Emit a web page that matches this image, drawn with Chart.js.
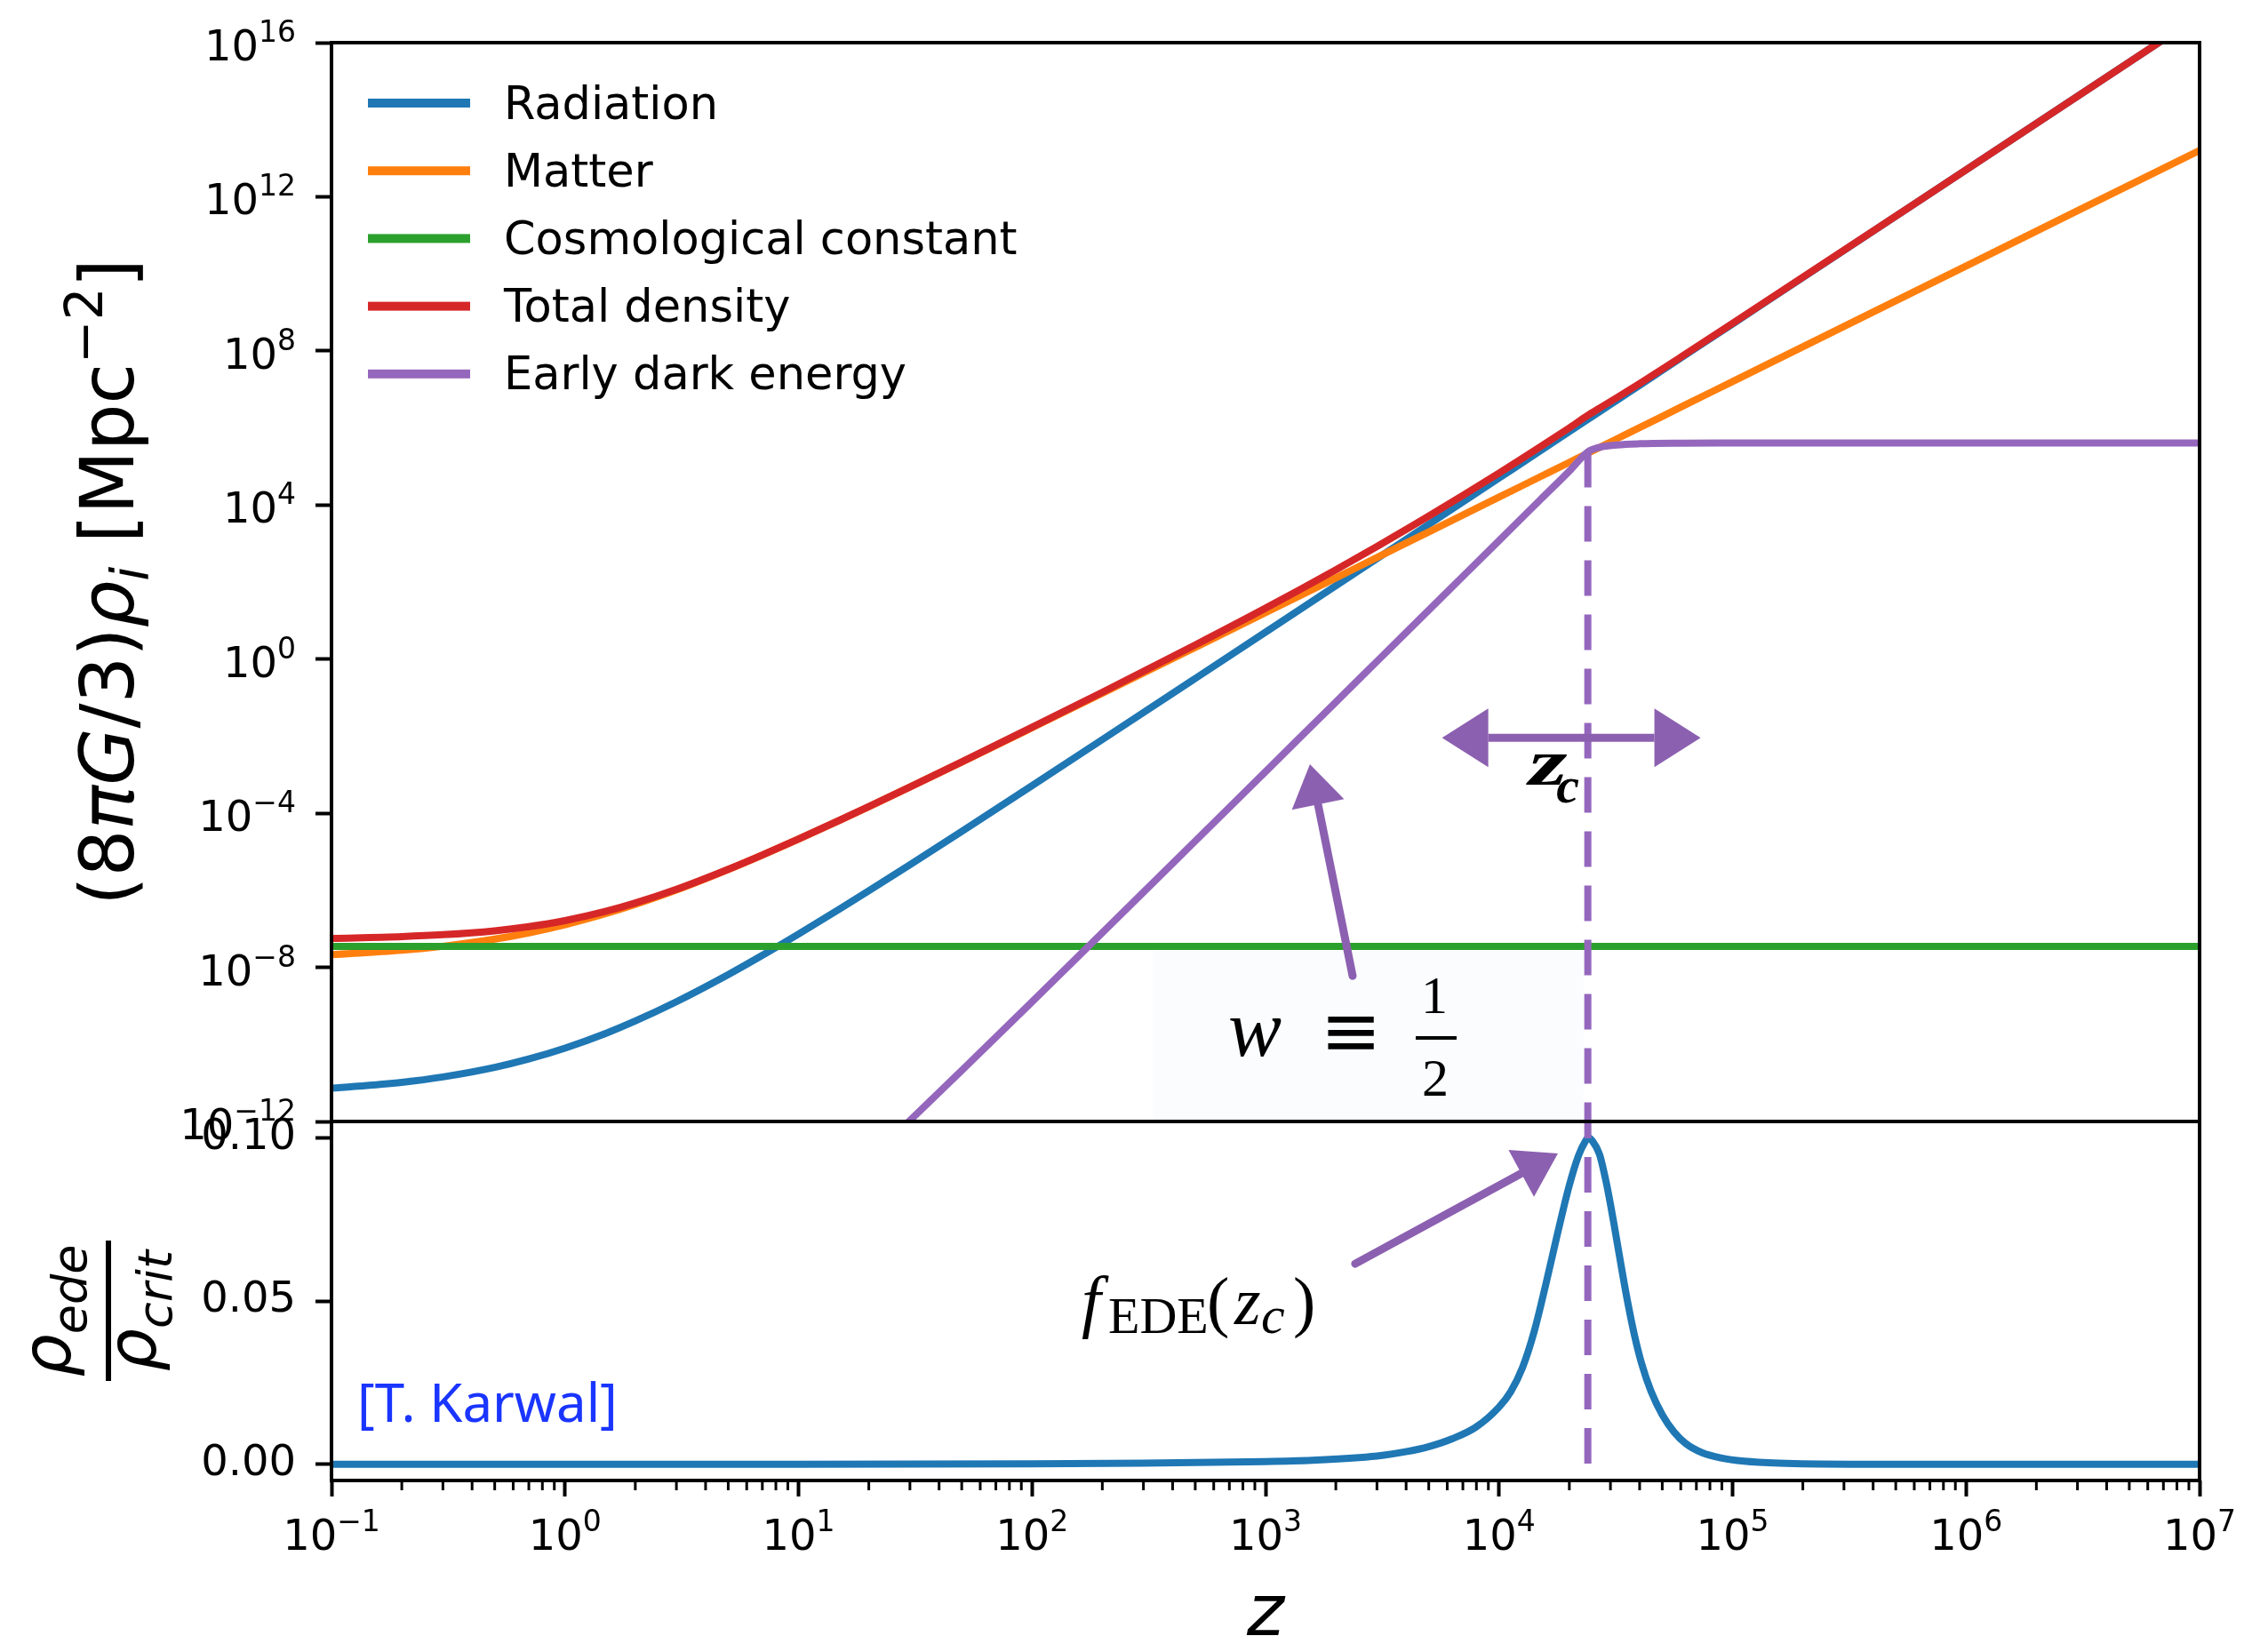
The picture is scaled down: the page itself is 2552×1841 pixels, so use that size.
<!DOCTYPE html>
<html>
<head>
<meta charset="utf-8">
<script src="https://cdn.jsdelivr.net/npm/chart.js@4.4.1/dist/chart.umd.min.js"></script>
<style>
html, body { margin: 0; padding: 0; background: #fff; }
#wrap { position: relative; width: 2552px; height: 1841px; overflow: hidden; }
canvas { position: absolute; left: 0; top: 0; }
</style>
</head>
<body>
<div id="wrap">
  <canvas id="topChart" width="2552" height="1841"></canvas>
  <canvas id="bottomChart" width="2552" height="1841"></canvas>
</div>
<script>
// values (log-log upper panel, linear lower panel)
const zTop = [0.1, 0.2, 0.3, 0.5, 0.7, 1, 1.5, 2, 3, 5, 7, 10, 15, 20, 30, 50, 100, 200, 500,
  1000, 2000, 3000, 5000, 1e4, 1.5e4, 2e4, 2.4e4, 2.7e4, 3.2e4, 4e4, 6e4, 1e5, 1e6, 1e7];
const radiation = [7.3e-12, 1.04e-11, 1.43e-11, 2.53e-11, 4.18e-11, 8.0e-11, 1.95e-10, 4.05e-10, 1.28e-9,
  6.48e-9, 2.05e-8, 7.32e-8, 3.28e-7, 9.72e-7, 4.62e-6, 3.38e-5, 5.2e-4, 8.16e-3, 0.315,
  5.02, 80.2, 405, 3127, 5.0e4, 2.53e5, 8.0e5, 1.66e6, 2.66e6, 5.24e6, 1.28e7, 6.48e7, 5.0e8, 5.0e12, 5.0e16];
const matter = [2.13e-8, 2.77e-8, 3.52e-8, 5.4e-8, 7.86e-8, 1.28e-7, 2.5e-7, 4.32e-7, 1.02e-6,
  3.46e-6, 8.19e-6, 2.13e-5, 6.55e-5, 1.48e-4, 4.77e-4, 2.12e-3, 0.0165, 0.130, 2.01,
  16.0, 128, 433, 2.0e3, 1.6e4, 5.4e4, 1.28e5, 2.21e5, 3.15e5, 5.24e5, 1.02e6, 3.46e6, 1.6e7, 1.6e10, 1.6e13];
const total = [5.63e-8, 6.28e-8, 7.03e-8, 8.9e-8, 1.137e-7, 1.631e-7, 2.852e-7, 4.674e-7, 1.056e-6,
  3.50e-6, 8.25e-6, 2.14e-5, 6.59e-5, 1.49e-4, 4.82e-4, 2.15e-3, 0.0170, 0.138, 2.33,
  21.0, 208, 839, 5146, 6.72e4, 3.21e5, 1.004e6, 2.12e6, 3.29e6, 6.13e6, 1.42e7, 6.87e7, 5.16e8, 5.02e12, 5.0e16];
const zLambda = [0.1, 1e7];
const lambdaVals = [3.5e-8, 3.5e-8];
const zEde = [20, 30, 50, 100, 200, 500, 1000, 2000, 3000, 5000, 1e4, 1.5e4, 2e4, 2.4e4, 2.7e4,
  3.2e4, 4e4, 6e4, 1e5, 1e6, 1e7];
const ede = [1.0e-13, 1.06e-12, 2.1e-11, 1.27e-9, 7.87e-8, 1.89e-5, 1.2e-3, 0.0768, 0.873, 18.7, 1194,
  1.36e4, 7.6e4, 2.4e5, 3.16e5, 3.63e5, 3.89e5, 4.03e5, 4.07e5, 4.07e5, 4.07e5];

// lower panel: rho_ede / rho_crit
const zFrac = [0.1, 10, 100, 300, 1000, 1585, 2512, 3162, 3981, 5012, 6310, 7943, 10000, 11220, 12589,
  14125, 15849, 17783, 19953, 21878, 23442, 24100, 25119, 26915, 28840, 30903, 33113, 35481, 38019, 40738,
  44668, 50119, 56234, 63096, 74131, 89125, 112202, 158489, 316228, 1e6, 1e7];
const fracEde = [0, 0, 0.0001, 0.0003, 0.0008, 0.0012, 0.0020, 0.0027, 0.0038, 0.0054, 0.0078, 0.0113,
  0.0175, 0.0222, 0.0295, 0.0405, 0.0550, 0.0705, 0.0852, 0.0945, 0.0990, 0.1000, 0.0990, 0.0950, 0.0860,
  0.0745, 0.0620, 0.0500, 0.0395, 0.0310, 0.0225, 0.0150, 0.0098, 0.0063, 0.0035, 0.0019, 0.0009, 0.0003,
  0, 0, 0];

// critical redshift marker
const zCrit = 2.4e4;
const zCritTop = [2.4e5, 1e-12];
const zCritBottom = [0.105, 0];

// ticks
const xTicks = [0.1, 1, 10, 100, 1e3, 1e4, 1e5, 1e6, 1e7];
const xTickExp = ['−1', '0', '1', '2', '3', '4', '5', '6', '7'];
const yTopTicks = [1e-12, 1e-8, 1e-4, 1, 1e4, 1e8, 1e12, 1e16];
const yTopExp = ['−12', '−8', '−4', '0', '4', '8', '12', '16'];
const yBotTicks = [0, 0.05, 0.1];
const yBotLabels = ['0.00', '0.05', '0.10'];
const minorMult = [2, 3, 4, 5, 6, 7, 8, 9];

// annotation anchors, in data coordinates [z, value]
const zcArrow = [[5.7e3, 9.1e-3], [7.3e4, 9.1e-3]];
const zcText = [1.34e4, 5.5e-4];
const wArrow = [[2360, 6.0e-9], [1549, 1.86e-3]];
const wText = [692, 5.1e-11];
const wBox = [[330, 2.7e-8], [23040, 1e-12]];
const fArrow = [[2420, 0.0614], [17870, 0.0952]];
const fText = [163, 0.0429];
const creditText = [0.129, 0.0130];

const SANS = "'DejaVu Sans'";
const SERIF = "'Liberation Serif'";
const purple = '#9467bd';
const notePurple = '#8c60b0';

function pts(xs, ys) {
    return xs.map((x, i) => ({ x: x, y: ys[i] }));
}

function curve(label, xs, ys, color, order) {
    return {
        label: label, data: pts(xs, ys), borderColor: color, backgroundColor: color,
        borderWidth: 8, pointRadius: 0, cubicInterpolationMode: 'monotone', order: order
    };
}

function toPx(chart, p) {
    return [chart.scales.x.getPixelForValue(p[0]), chart.scales.y.getPixelForValue(p[1])];
}

// draw a list of [text, font, dy] pieces one after another
function drawRuns(ctx, runs, x, y, align) {
    let width = 0;
    runs.forEach(r => { ctx.font = r[1]; width += ctx.measureText(r[0]).width; });
    let cx = align === 'center' ? x - width / 2 : x;
    runs.forEach(r => {
        ctx.font = r[1];
        ctx.fillText(r[0], cx, y + (r[2] || 0));
        cx += ctx.measureText(r[0]).width;
    });
    return width;
}

// "10^n" tick labels on the log axes, positioned from the scale's own ticks
function powLabels(ctx, scale, exps, axis) {
    ctx.save();
    ctx.fillStyle = '#000';
    ctx.textAlign = 'left';
    ctx.textBaseline = 'alphabetic';
    scale.ticks.forEach((t, i) => {
        const p = scale.getPixelForValue(t.value);
        ctx.font = '48px ' + SANS;
        const w1 = ctx.measureText('10').width;
        ctx.font = '33px ' + SANS;
        const w2 = ctx.measureText(exps[i]).width;
        let x, b;
        if (axis === 'y') {
            x = scale.right - 40 - (w1 + w2);
            b = p + 20;
        } else {
            x = p - (w1 + w2) / 2;
            b = scale.top + 78;
        }
        ctx.font = '48px ' + SANS;
        ctx.fillText('10', x, b);
        ctx.font = '33px ' + SANS;
        ctx.fillText(exps[i], x + w1, b - 21);
    });
    ctx.restore();
}

function head(ctx, tip, from, len, half) {
    const dx = tip[0] - from[0], dy = tip[1] - from[1];
    const d = Math.hypot(dx, dy), ux = dx / d, uy = dy / d;
    const bx = tip[0] - ux * len, by = tip[1] - uy * len;
    ctx.beginPath();
    ctx.moveTo(tip[0], tip[1]);
    ctx.lineTo(bx - uy * half, by + ux * half);
    ctx.lineTo(bx + uy * half, by - ux * half);
    ctx.closePath();
    ctx.fill();
    return [bx, by];
}

function arrow(ctx, tail, tip, len, half, width) {
    ctx.save();
    ctx.fillStyle = notePurple;
    ctx.strokeStyle = notePurple;
    ctx.lineWidth = width;
    ctx.lineCap = 'round';
    const base = head(ctx, tip, tail, len, half);
    ctx.beginPath();
    ctx.moveTo(tail[0], tail[1]);
    ctx.lineTo(base[0], base[1]);
    ctx.stroke();
    ctx.restore();
}

const framePlugin = {
    id: 'frame',
    afterDraw(chart) {
        const a = chart.chartArea, ctx = chart.ctx;
        ctx.save();
        ctx.strokeStyle = '#000';
        ctx.lineWidth = 4;
        ctx.strokeRect(a.left, a.top, a.right - a.left, a.bottom - a.top);
        ctx.restore();
    }
};

const topNotes = {
    id: 'topNotes',
    beforeDatasetsDraw(chart) {
        const ctx = chart.ctx;
        const p0 = toPx(chart, wBox[0]), p1 = toPx(chart, wBox[1]);
        ctx.save();
        ctx.fillStyle = '#fafcfe';
        ctx.fillRect(p0[0], p0[1], p1[0] - p0[0], p1[1] - p0[1]);
        ctx.restore();
    },
    afterDraw(chart) {
        const ctx = chart.ctx, a = chart.chartArea;
        powLabels(ctx, chart.scales.y, yTopExp, 'y');
        ctx.save();
        ctx.textBaseline = 'alphabetic';
        ctx.textAlign = 'left';

        // legend, matplotlib style inside the axes
        chart.data.datasets.slice(0, 5).forEach((ds, i) => {
            const y = a.top + 68 + i * 76.2;
            ctx.fillStyle = ds.borderColor;
            ctx.fillRect(a.left + 41, y - 5, 115, 10);
            ctx.fillStyle = '#000';
            ctx.font = '51px ' + SANS;
            ctx.fillText(ds.label, a.left + 194, y + 17.5);
        });

        // z_c double arrow
        const L = toPx(chart, zcArrow[0]), R = toPx(chart, zcArrow[1]);
        ctx.fillStyle = notePurple;
        ctx.strokeStyle = notePurple;
        ctx.lineWidth = 9;
        const lb = head(ctx, L, R, 52, 33);
        const rb = head(ctx, R, L, 52, 33);
        ctx.beginPath();
        ctx.moveTo(lb[0], lb[1]);
        ctx.lineTo(rb[0], rb[1]);
        ctx.stroke();

        // w arrow
        arrow(ctx, toPx(chart, wArrow[0]), toPx(chart, wArrow[1]), 46, 30, 9);

        // z_c label
        const zt = toPx(chart, zcText);
        ctx.fillStyle = '#000';
        ctx.save();
        ctx.translate(zt[0], zt[1]);
        ctx.scale(1.5, 1);
        ctx.font = 'bold italic 74px ' + SERIF;
        ctx.fillText('z', 0, 0);
        ctx.restore();
        ctx.font = 'bold italic 58px ' + SERIF;
        ctx.fillText('c', zt[0] + 31, zt[1] + 20);

        // w = 1/2
        const wt = toPx(chart, wText);
        ctx.font = 'italic 90px ' + SERIF;
        ctx.fillText('w', wt[0], wt[1]);
        ctx.textAlign = 'center';
        ctx.textBaseline = 'middle';
        ctx.font = '82px ' + SANS;
        ctx.fillText('≡', wt[0] + 138, wt[1] - 21);
        ctx.textBaseline = 'alphabetic';
        ctx.font = '60px ' + SERIF;
        ctx.fillText('1', wt[0] + 232, wt[1] - 48);
        ctx.fillText('2', wt[0] + 233, wt[1] + 45);
        ctx.fillRect(wt[0] + 211, wt[1] - 22, 46, 4);
        ctx.textAlign = 'left';

        // y axis title
        ctx.save();
        ctx.translate(150, (a.top + a.bottom) / 2);
        ctx.rotate(-Math.PI / 2);
        const F = 83, S = 58;
        drawRuns(ctx, [
            ['(8', F + 'px ' + SANS, 0],
            ['π', 'italic ' + F + 'px ' + SANS, 0],
            ['G', 'italic ' + F + 'px ' + SANS, 0],
            ['/3)', F + 'px ' + SANS, 0],
            ['ρ', 'italic ' + F + 'px ' + SANS, 0],
            ['i', 'italic ' + S + 'px ' + SANS, 17],
            [' [Mpc', F + 'px ' + SANS, 0],
            ['−2', S + 'px ' + SANS, -35],
            [']', F + 'px ' + SANS, 0]
        ], 0, 0, 'center');
        ctx.restore();
        ctx.restore();
    }
};

const bottomNotes = {
    id: 'bottomNotes',
    afterDraw(chart) {
        const ctx = chart.ctx, a = chart.chartArea, xs = chart.scales.x;
        powLabels(ctx, xs, xTickExp, 'x');
        ctx.save();
        ctx.fillStyle = '#000';
        ctx.strokeStyle = '#000';

        // minor ticks of the log axis
        ctx.lineWidth = 3;
        xTicks.slice(0, -1).forEach(t => {
            minorMult.forEach(m => {
                const x = xs.getPixelForValue(t * m);
                ctx.beginPath();
                ctx.moveTo(x, a.bottom);
                ctx.lineTo(x, a.bottom + 11);
                ctx.stroke();
            });
        });

        // f_EDE arrow and label
        arrow(ctx, toPx(chart, fArrow[0]), toPx(chart, fArrow[1]), 47, 30, 9);
        const ft = toPx(chart, fText);
        ctx.fillStyle = '#000';
        ctx.textBaseline = 'alphabetic';
        ctx.textAlign = 'left';
        ctx.font = 'italic 78px ' + SERIF;
        ctx.fillText('f', ft[0], ft[1]);
        ctx.font = '58px ' + SERIF;
        ctx.fillText('EDE', ft[0] + 30, ft[1] + 10);
        ctx.font = '76px ' + SERIF;
        ctx.fillText('(', ft[0] + 141, ft[1]);
        ctx.font = 'italic 76px ' + SERIF;
        ctx.fillText('z', ft[0] + 172, ft[1]);
        ctx.font = 'italic 60px ' + SERIF;
        ctx.fillText('c', ft[0] + 202, ft[1] + 10);
        ctx.font = '76px ' + SERIF;
        ctx.fillText(')', ft[0] + 238, ft[1]);

        // credit
        const ct = toPx(chart, creditText);
        ctx.fillStyle = '#1a35ff';
        ctx.font = "60px 'Noto Sans'";
        ctx.fillText('[T. Karwal]', ct[0], ct[1]);

        // x axis title
        ctx.fillStyle = '#000';
        ctx.textAlign = 'center';
        ctx.font = 'italic 80px ' + SANS;
        ctx.fillText('z', (a.left + a.right) / 2, a.bottom + 174);

        // y axis title: rho_ede / rho_crit
        ctx.save();
        ctx.translate(122, a.top + 213);
        ctx.rotate(-Math.PI / 2);
        ctx.textAlign = 'left';
        drawRuns(ctx, [['ρ', 'italic 76px ' + SANS, 0], ['ede', 'italic 54px ' + SANS, 18]], 0, -43, 'center');
        ctx.fillRect(-79, -3, 158, 6);
        drawRuns(ctx, [['ρ', 'italic 76px ' + SANS, 0], ['crit', 'italic 54px ' + SANS, 18]], 0, 53, 'center');
        ctx.restore();
        ctx.restore();
    }
};

const tickFont = { family: 'DejaVu Sans', size: 48 };
const grid = { display: true, drawOnChartArea: false, drawTicks: true, tickLength: 18, tickWidth: 4, tickColor: '#000' };

new Chart(document.getElementById('topChart'), {
    type: 'line',
    data: {
        datasets: [
            curve('Radiation', zTop, radiation, '#1f77b4', 5),
            curve('Matter', zTop, matter, '#ff7f0e', 4),
            curve('Cosmological constant', zLambda, lambdaVals, '#2ca02c', 3),
            curve('Total density', zTop, total, '#d62728', 2),
            curve('Early dark energy', zEde, ede, purple, 1),
            {
                label: 'zc', data: pts([zCrit, zCrit], zCritTop), borderColor: purple,
                borderWidth: 8, borderDash: [40, 21], pointRadius: 0, order: 0
            }
        ]
    },
    options: {
        responsive: false,
        devicePixelRatio: 1,
        animation: false,
        events: [],
        layout: { autoPadding: false, padding: { left: 0, right: 77, top: 48, bottom: 579 } },
        plugins: { legend: { display: false }, tooltip: { enabled: false } },
        scales: {
            x: { type: 'logarithmic', min: 0.1, max: 1e7, display: false },
            y: {
                type: 'logarithmic', min: 1e-12, max: 1e16,
                afterFit: s => { s.width = 373; },
                afterBuildTicks: s => { s.ticks = yTopTicks.map(v => ({ value: v })); },
                ticks: { display: false, autoSkip: false },
                grid: grid,
                border: { display: false }
            }
        }
    },
    plugins: [framePlugin, topNotes]
});

new Chart(document.getElementById('bottomChart'), {
    type: 'line',
    data: {
        datasets: [
            {
                label: 'zc', data: pts([zCrit, zCrit], zCritBottom), borderColor: purple,
                borderWidth: 8, borderDash: [40, 21], borderDashOffset: 21, pointRadius: 0, order: 0
            },
            curve('f_EDE', zFrac, fracEde, '#1f77b4', 1)
        ]
    },
    options: {
        responsive: false,
        devicePixelRatio: 1,
        animation: false,
        events: [],
        layout: { autoPadding: false, padding: { left: 0, right: 77, top: 1262, bottom: 0 } },
        plugins: { legend: { display: false }, tooltip: { enabled: false } },
        scales: {
            x: {
                type: 'logarithmic', min: 0.1, max: 1e7,
                afterFit: s => { s.height = 175; },
                afterBuildTicks: s => { s.ticks = xTicks.map(v => ({ value: v })); },
                ticks: { display: false, autoSkip: false },
                grid: grid,
                border: { display: false }
            },
            y: {
                type: 'linear', min: -0.005, max: 0.105,
                afterFit: s => { s.width = 373; },
                afterBuildTicks: s => { s.ticks = yBotTicks.map(v => ({ value: v })); },
                ticks: { font: tickFont, color: '#000', padding: 22, autoSkip: false,
                    callback: (v, i) => yBotLabels[i] },
                grid: grid,
                border: { display: false }
            }
        }
    },
    plugins: [framePlugin, bottomNotes]
});
</script>
</body>
</html>
